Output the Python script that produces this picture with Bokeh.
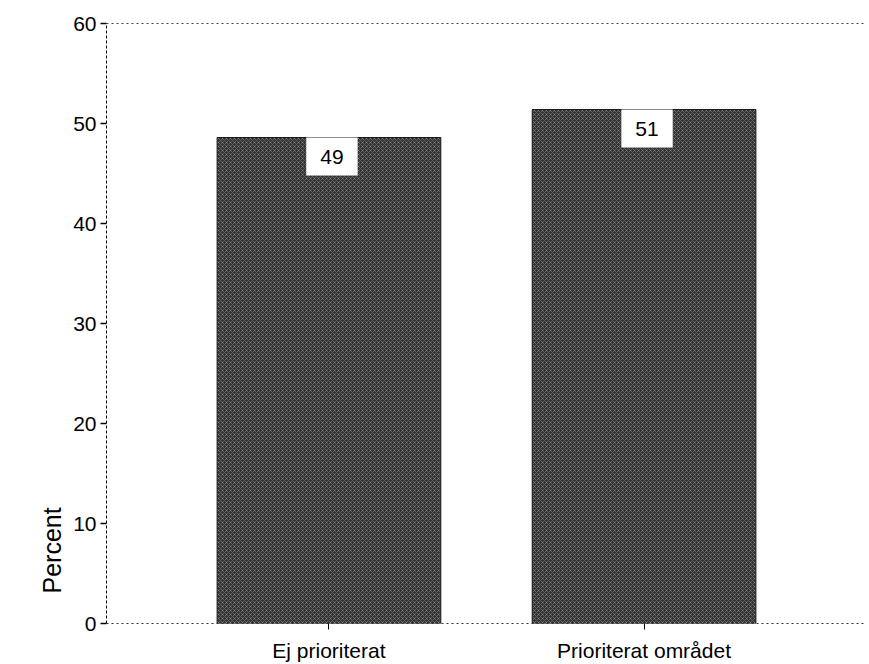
from bokeh.plotting import figure
from bokeh.models import ColumnDataSource, FactorRange, FixedTicker, LinearAxis, Title, Range1d
from bokeh.core.properties import value
from bokeh.embed import file_html
from bokeh.resources import INLINE

categories = ["Ej prioriterat", "Prioriterat området"]
values = [48.6, 51.4]
labels = ["49", "51"]
y_ticks = [0, 10, 20, 30, 40, 50, 60]

FONT = "Liberation Sans"

src = ColumnDataSource(dict(cat=categories, val=values, lab=labels))

p = figure(width=866, height=664, output_backend="svg", toolbar_location=None,
           x_range=FactorRange(factors=categories, range_padding=0.206),
           y_range=Range1d(0, 60),
           min_border_left=106, min_border_right=0, min_border_top=23, min_border_bottom=38)

p.vbar(x="cat", top="val", width=0.71, source=src,
       fill_color="#333333", line_color="#1a1a1a", line_width=1,
       hatch_pattern="x", hatch_color="white", hatch_alpha=0.4, hatch_scale=4, hatch_weight=0.6)

p.text(x="cat", y="val", text="lab", source=src, x_offset=3, y_offset=0,
       text_align="center", text_baseline="top", text_font_size="21px",
       text_font=value(FONT), text_color="black",
       background_fill_color="white", padding=(14, 12))

p.xgrid.visible = False
p.ygrid.visible = False
p.outline_line_color = None
p.background_fill_color = "white"
p.border_fill_color = "white"

p.yaxis.ticker = FixedTicker(ticks=y_ticks)
p.yaxis.major_label_text_font = FONT
p.yaxis.major_label_text_font_size = "21px"
p.yaxis.major_label_text_color = "black"
p.yaxis.major_tick_out = 6
p.yaxis.major_tick_in = 0
p.yaxis.minor_tick_line_color = None
p.yaxis.major_tick_line_width = 1.5
p.yaxis.axis_line_dash = "3 2"
p.yaxis.axis_line_color = "black"
p.yaxis.major_label_standoff = 4

p.xaxis.major_label_text_font = FONT
p.xaxis.major_label_text_font_size = "21px"
p.xaxis.major_label_text_color = "black"
p.xaxis.major_tick_out = 6
p.xaxis.major_tick_in = 0
p.xaxis.axis_line_dash = "2 3"
p.xaxis.axis_line_color = "#333333"
p.xaxis.major_label_standoff = 9

top_axis = LinearAxis(ticker=FixedTicker(ticks=[]), axis_line_dash="2 3", axis_line_color="#444444",
                      major_tick_line_color=None, minor_tick_line_color=None)
p.add_layout(top_axis, "above")

t = Title(text="Percent", align="left", offset=30, text_font=FONT,
          text_font_size="25px", text_font_style="normal", text_color="black")
p.add_layout(t, "left")

open("out.html", "w").write(file_html(p, INLINE))
